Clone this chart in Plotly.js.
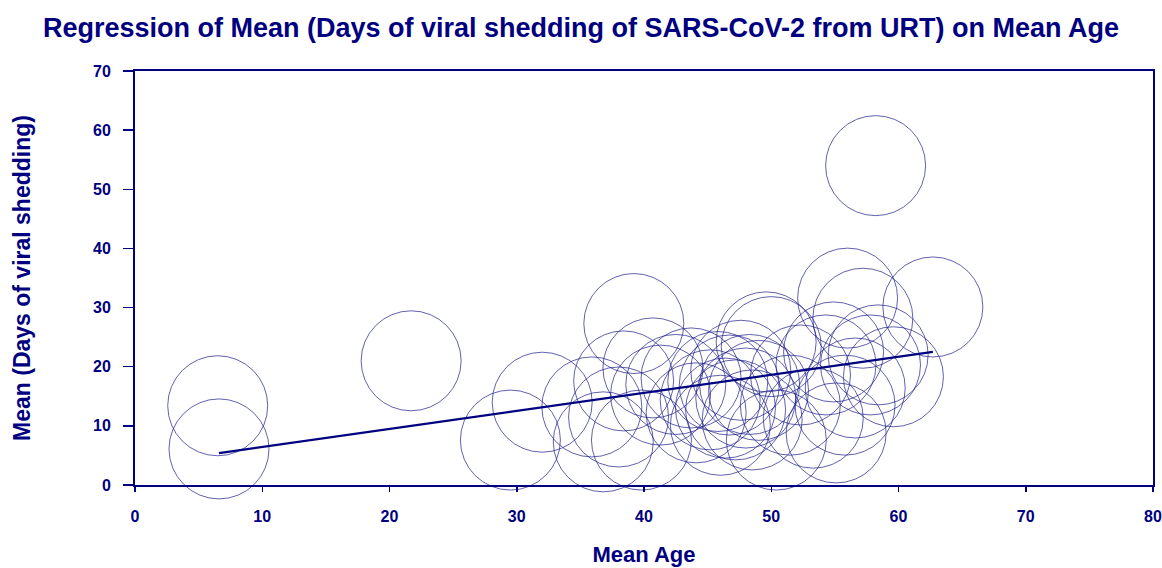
<!DOCTYPE html>
<html>
<head>
<meta charset="utf-8">
<script src="https://cdn.plot.ly/plotly-3.0.1.min.js"></script>
<style>html,body{margin:0;padding:0;background:#fff;}#chart{width:1162px;height:568px;}</style>
</head>
<body>
<div id="chart"></div>
<script>
// Study-level points: mean age (x) vs mean days of viral shedding (y)
var meanAge = [6.5, 6.6, 21.7, 29.5, 32.0, 35.9, 36.8, 38.0, 38.4, 39.2,
               39.8, 40.7, 41.3, 42.5, 43.7, 44.1, 45.2, 45.8, 46.0, 46.4,
               46.7, 47.2, 47.6, 48.0, 48.3, 48.5, 49.0, 49.6, 50.0, 50.4,
               51.5, 52.3, 53.3, 54.3, 54.9, 55.1, 55.8, 56.0, 56.6, 57.2,
               57.8, 58.2, 58.4, 59.6, 62.7];
var meanDays = [13.4, 6.1, 21.0, 7.6, 14.0, 13.2, 7.3, 11.5, 17.6, 27.3,
                7.6, 19.8, 15.2, 17.0, 18.1, 12.2, 14.4, 17.5, 10.1, 13.0,
                16.9, 12.7, 19.4, 14.7, 17.0, 11.0, 16.0, 24.2, 23.4, 7.6,
                13.5, 18.6, 11.3, 20.3, 22.5, 8.8, 13.5, 31.6, 16.4, 28.2,
                20.3, 54.0, 22.0, 18.3, 30.1];
// Regression line end points
var regAge = [6.6, 62.7];
var regDays = [5.4, 22.5];
var xTicks = [0, 10, 20, 30, 40, 50, 60, 70, 80];
var yTicks = [0, 10, 20, 30, 40, 50, 60, 70];

var navy = '#000080';
var font = 'Liberation Sans, Arial, sans-serif';

var traces = [
  {
    type: 'scatter', mode: 'markers', x: meanAge, y: meanDays,
    cliponaxis: false, hoverinfo: 'x+y',
    marker: {size: 100, color: 'rgba(0,0,0,0)', line: {color: 'rgba(30,30,140,0.7)', width: 1}}
  },
  {
    type: 'scatter', mode: 'lines', x: regAge, y: regDays,
    cliponaxis: false,
    line: {color: navy, width: 2.2}
  }
];

var layout = {
  width: 1162, height: 568,
  margin: {l: 135, r: 9, t: 71, b: 83},
  paper_bgcolor: '#fff', plot_bgcolor: '#fff',
  showlegend: false,
  title: {
    text: '<b>Regression of Mean (Days of viral shedding of SARS-CoV-2 from URT) on Mean Age</b>',
    font: {family: font, size: 27, color: navy},
    x: 0.5, xanchor: 'center', xref: 'container',
    y: 1 - 28 / 568, yanchor: 'middle', yref: 'container'
  },
  xaxis: {
    range: [0, 80], tickvals: xTicks, ticktext: xTicks.map(String),
    showgrid: false, zeroline: false,
    showline: true, linecolor: navy, linewidth: 2, mirror: true,
    ticks: 'outside', ticklen: 5, tickwidth: 1.5, tickcolor: navy,
    ticklabelstandoff: 11,
    tickfont: {family: font, size: 16, color: navy, weight: 'bold'},
    title: {text: '<b>Mean Age</b>', font: {family: font, size: 22, color: navy}, standoff: 22}
  },
  yaxis: {
    range: [0, 70], tickvals: yTicks, ticktext: yTicks.map(String),
    showgrid: false, zeroline: false,
    showline: true, linecolor: navy, linewidth: 2, mirror: true,
    ticks: 'outside', ticklen: 10, tickwidth: 1.5, tickcolor: navy,
    ticklabelstandoff: 9,
    tickfont: {family: font, size: 16, color: navy, weight: 'bold'},
    title: {text: '<b>Mean (Days of viral shedding)</b>', font: {family: font, size: 23, color: navy}, standoff: 56}
  }
};

Plotly.newPlot('chart', traces, layout, {displayModeBar: false, staticPlot: true});
</script>
</body>
</html>
